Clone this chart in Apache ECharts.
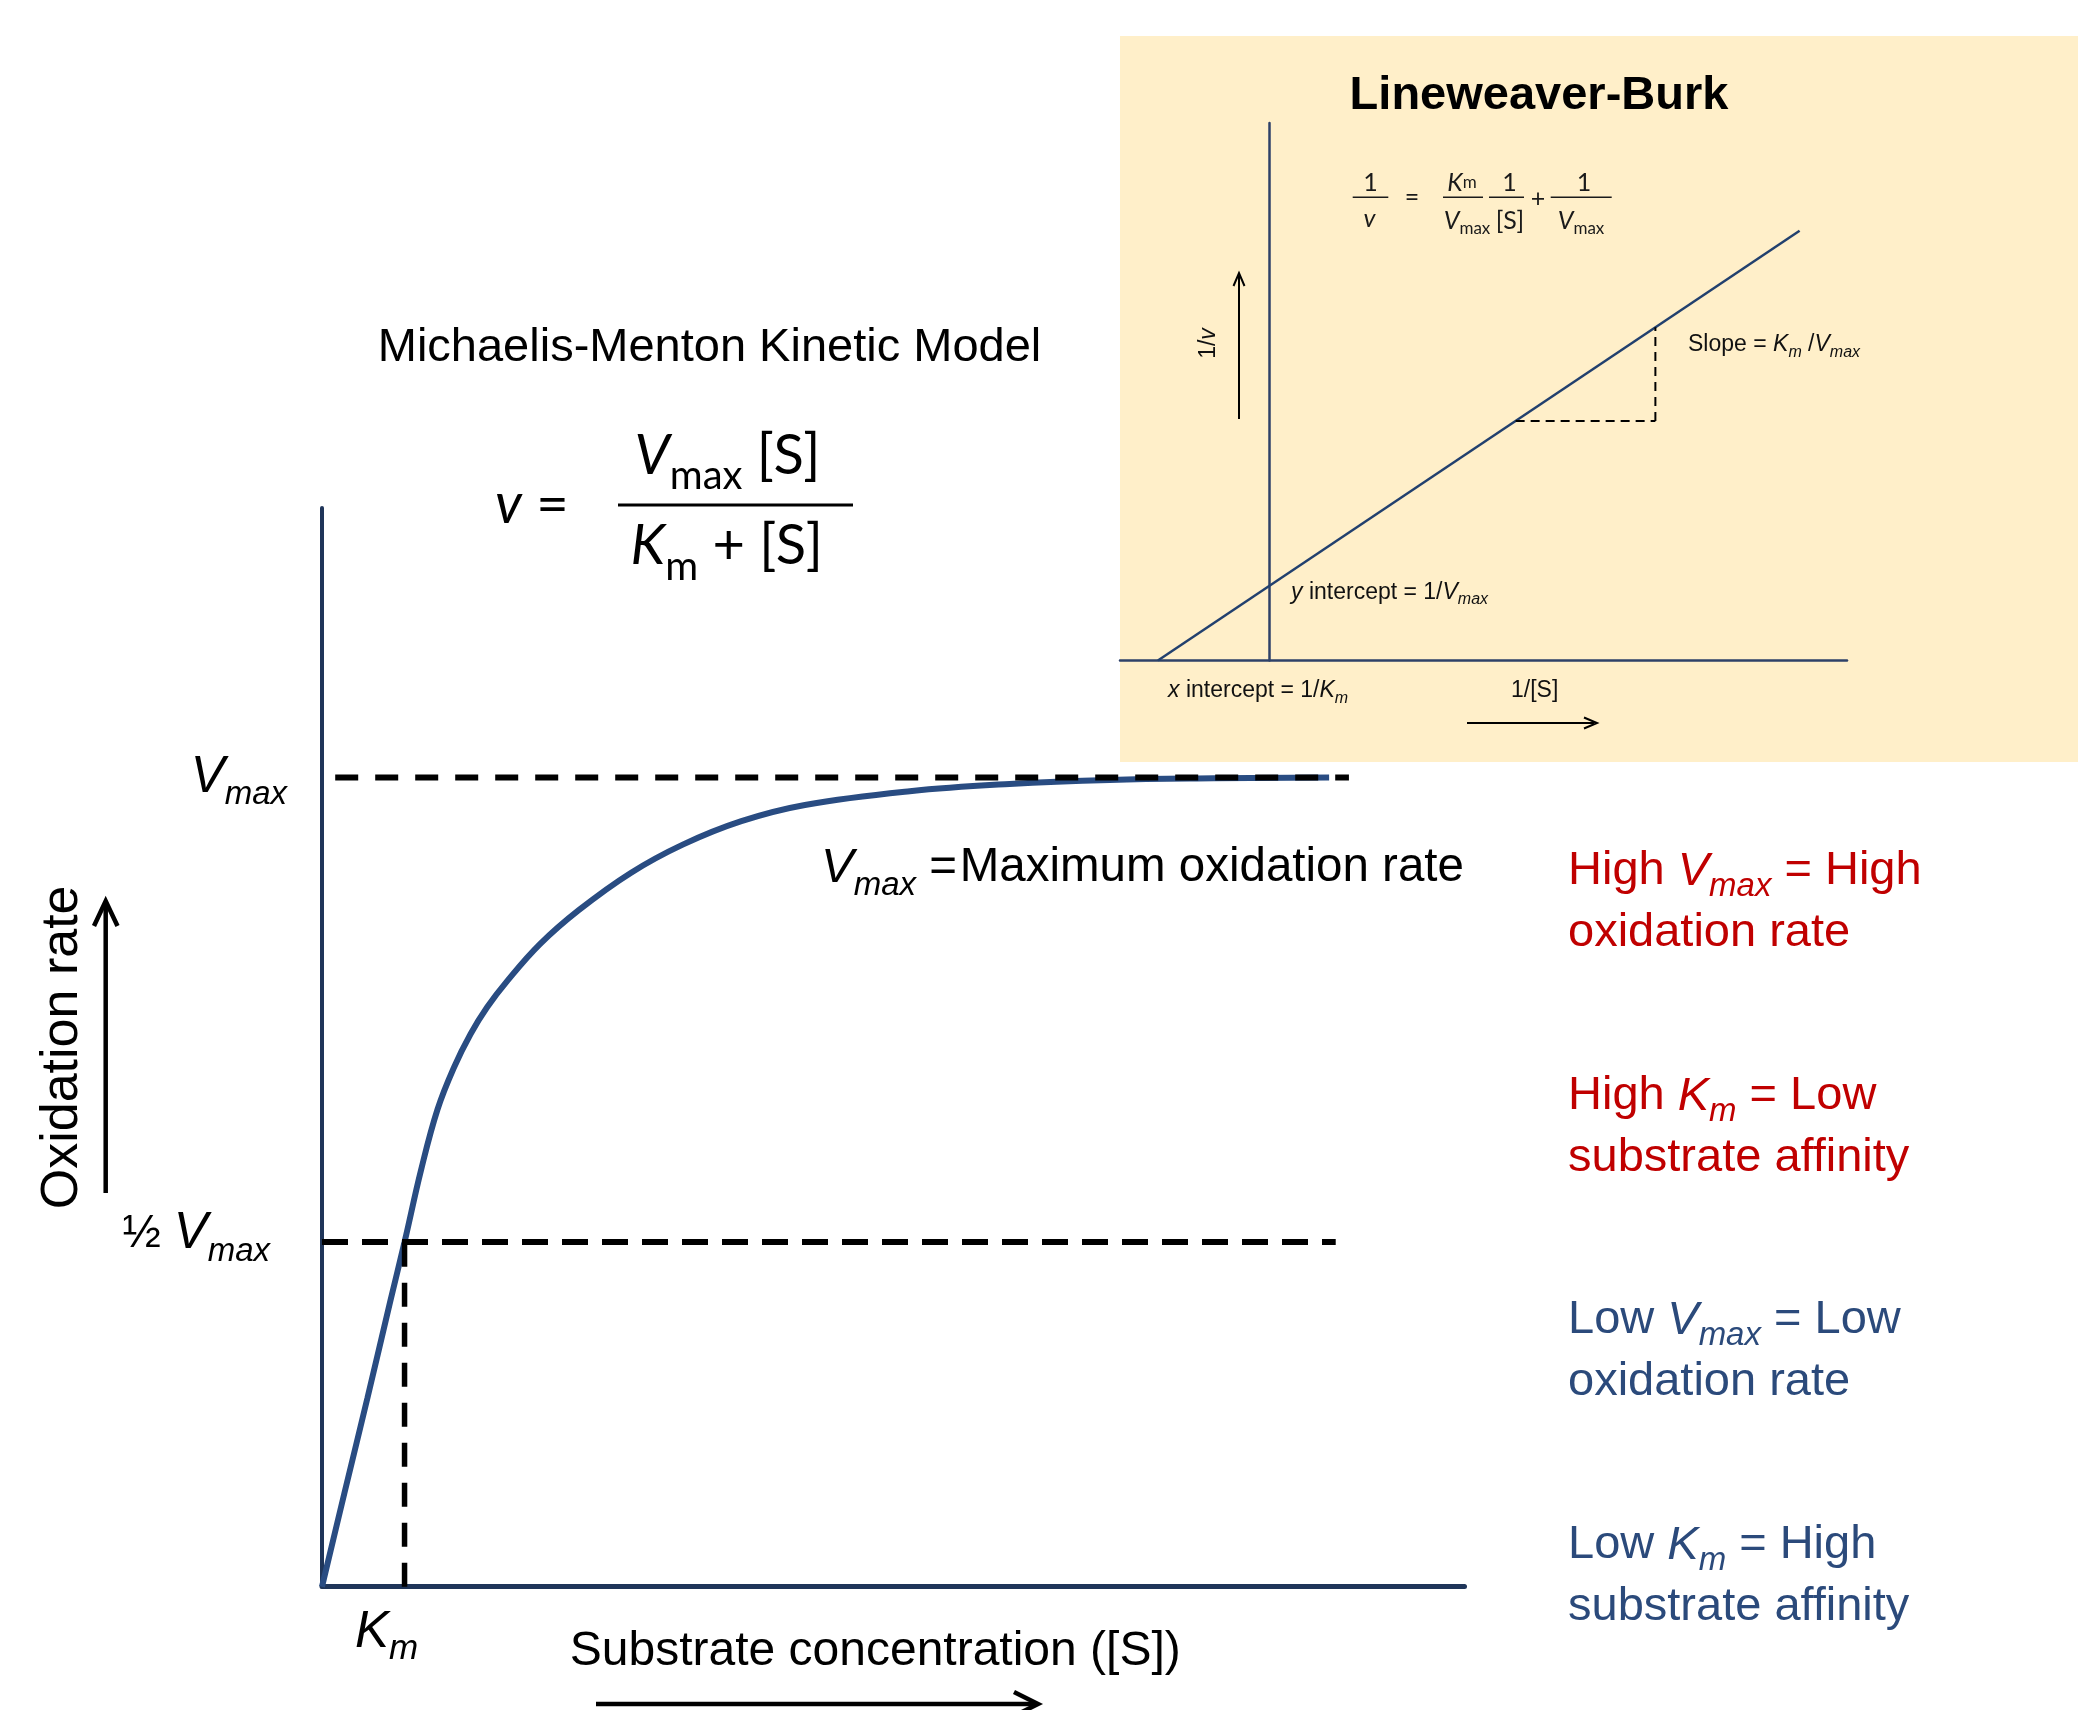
<!DOCTYPE html>
<html>
<head>
<meta charset="utf-8">
<script src="https://cdn.jsdelivr.net/npm/echarts@6/dist/echarts.min.js"></script>
<style>
html,body{margin:0;padding:0;background:#ffffff;}
#chart{width:2078px;height:1710px;}
</style>
</head>
<body>
<div id="chart"></div>
<script>
// ---------------- DATA ----------------
// Michaelis-Menten curve: [S] in units of Km, v in units of Vmax
const substrateConc = [0, 0.27, 0.55, 0.83, 1.0, 1.2, 1.4, 1.6, 1.8, 2.0, 2.24, 2.64, 3.11, 3.74, 4.37, 5.08, 5.85, 7.12, 8.33, 9.54, 10.8, 12.2];
const oxidationRate = [0, 0.115, 0.233, 0.354, 0.426, 0.515, 0.59, 0.642, 0.683, 0.716, 0.748, 0.794, 0.836, 0.882, 0.917, 0.946, 0.966, 0.983, 0.992, 0.997, 0.999, 1.0];
const vmaxLevel = 1;
const halfVmaxLevel = 0.426;
const kmValue = 1;
const vmaxLineX = [0.16, 12.44];
const halfLineX = [0, 12.28];
const yTickValues = [0.426, 1];
const yTickLabels = ['½ Vmax', 'Vmax'];
const xTickValues = [1];
const xTickLabels = ['Km'];
const xRange = [0, 13.84];
const yRange = [0, 1.333];
// Lineweaver-Burk inset: x = 1/[S] (units of 1/Km), y = 1/v (units of 1/Vmax)
const lbInvS = [-1, 4.74];
const lbInvV = [0, 5.74];
const slopeRunX = [2.2, 3.45];
const slopeRunY = [3.2, 3.2];
const slopeRiseX = [3.45, 3.45];
const slopeRiseY = [3.2, 4.45];
const lbXRange = [-1.339, 5.164];
const lbYRange = [0, 7.18];

// ---------------- STYLE ----------------
const AR = "'Liberation Sans', Arial, Helvetica, sans-serif";
const LT = "Lato, Carlito, Calibri, 'Open Sans', sans-serif";
const AXIS = '#1F3559';
const CURVE = '#294C82';
const RED = '#C00000';
const BLUE = '#2B4A7B';

function zip(a, b) { return a.map((v, i) => [v, b[i]]); }

function mathLabel(label, set) {
  const m = label.match(/^(.*?)([A-Z])([a-z]+)$/);
  if (!m) return label;
  const pre = m[1], base = m[2], sub = m[3];
  if (set === 'h') return (pre ? '{hp|' + pre + '}' : '') + '{hv|' + base + '}{hs|' + sub + '}';
  return (pre ? '{p|' + pre + '}' : '') + '{v|' + base + '}{s|' + sub + '}';
}

function tok(o) { return Object.assign({ verticalAlign: 'middle' }, o); }

const yTickRich = {
  p: tok({ fontFamily: AR, fontSize: 46, lineHeight: 56, color: '#000' }),
  v: tok({ fontFamily: AR, fontStyle: 'italic', fontSize: 51, lineHeight: 56, color: '#000' }),
  s: tok({ fontFamily: AR, fontStyle: 'italic', fontSize: 33, lineHeight: 56, color: '#000', padding: [35, 0, 0, 0] }),
  hp: tok({ fontFamily: AR, fontSize: 46, lineHeight: 56, color: '#000', padding: [0, 0, 16, 0] }),
  hv: tok({ fontFamily: AR, fontStyle: 'italic', fontSize: 51, lineHeight: 56, color: '#000', padding: [0, 0, 16, 0] }),
  hs: tok({ fontFamily: AR, fontStyle: 'italic', fontSize: 33, lineHeight: 56, color: '#000', padding: [35, 17, 16, 0] })
};
const xTickRich = {
  v: tok({ fontFamily: AR, fontStyle: 'italic', fontSize: 51, lineHeight: 52, color: '#000' }),
  s: tok({ fontFamily: AR, fontStyle: 'italic', fontSize: 35, lineHeight: 52, color: '#000', padding: [34, 36, 0, 0] })
};

// ---------------- GRAPHIC HELPERS (text + decorations) ----------------
function gText(x, y, text, st, rich, extra) {
  const style = Object.assign({
    text: text, fill: '#000', fontFamily: AR, fontSize: 48,
    align: 'left', textAlign: 'left', verticalAlign: 'middle', textVerticalAlign: 'middle'
  }, st || {});
  if (rich) style.rich = rich;
  return Object.assign({ type: 'text', x: x, y: y, z: 20, silent: true, style: style }, extra || {});
}
function gLine(x1, y1, x2, y2, w, color) {
  return { type: 'line', z: 20, silent: true, shape: { x1: x1, y1: y1, x2: x2, y2: y2 }, style: { stroke: color || '#000', lineWidth: w } };
}
function gPoly(points, w, color) {
  return { type: 'polyline', z: 20, silent: true, shape: { points: points }, style: { stroke: color || '#000', lineWidth: w, fill: null, lineJoin: 'miter' } };
}
function rt(font, size, opts) { return tok(Object.assign({ fontFamily: font, fontSize: size }, opts || {})); }

const graphics = [];
// yellow inset panel
graphics.push({ type: 'rect', z: -10, silent: true, shape: { x: 1120, y: 36, width: 958, height: 726 }, style: { fill: '#FFEFC9' } });

// Main title
graphics.push(gText(709.5, 348, 'Michaelis-Menton Kinetic Model', { fontSize: 47, align: 'center', textAlign: 'center' }));

// Michaelis-Menten equation
const fr = {
  vi: rt(LT, 56, { fontStyle: 'italic', lineHeight: 70 }),
  r: rt(LT, 56, { lineHeight: 70 }),
  V: rt(LT, 56, { fontStyle: 'italic', lineHeight: 70 }),
  sb: rt(LT, 40, { lineHeight: 70, padding: [40, 0, 0, 0] }),
  sb2: rt(LT, 40, { lineHeight: 70, padding: [42, 0, 0, 0] })
};
graphics.push(gText(495, 505, '{vi|v}{r| =}', { fontFamily: LT, fontSize: 56 }, fr));
graphics.push(gText(727.5, 456, '{V|V}{sb|max}{r| [S]}', { fontFamily: LT, fontSize: 56, align: 'center', textAlign: 'center' }, fr));
graphics.push(gLine(618, 505, 853, 505, 3));
graphics.push(gText(726.7, 546, '{V|K}{sb2|m}{r| + [S]}', { fontFamily: LT, fontSize: 56, align: 'center', textAlign: 'center' }, fr));

// Vmax = Maximum oxidation rate
graphics.push(gText(821, 868, '{v|V}{s|max}{r| =}{sp| }{r|Maximum oxidation rate}', { fontSize: 47.5 }, {
  v: rt(AR, 49, { fontStyle: 'italic', lineHeight: 60 }),
  s: rt(AR, 33, { fontStyle: 'italic', lineHeight: 60, padding: [35, 0, 0, 0] }),
  r: rt(AR, 47.5, { lineHeight: 60 }),
  sp: rt(AR, 10, { lineHeight: 60 })
}));

// Right-hand notes
function note(y, color, first, sym, sub, rest, second) {
  const rich = {
    r: rt(AR, 47, { lineHeight: 61.5, fill: color }),
    i: rt(AR, 47, { fontStyle: 'italic', lineHeight: 61.5, fill: color }),
    s: rt(AR, 33, { fontStyle: 'italic', lineHeight: 61.5, fill: color, padding: [30, 0, 0, 0] })
  };
  const txt = '{r|' + first + '}{i|' + sym + '}{s|' + sub + '}{r|' + rest + '}\n{r|' + second + '}';
  return gText(1568, y, txt, { fill: color, fontSize: 47, verticalAlign: 'top', textVerticalAlign: 'top' }, rich);
}
graphics.push(note(840.7, RED, 'High ', 'V', 'max', ' = High', 'oxidation rate'));
graphics.push(note(1065.7, RED, 'High ', 'K', 'm', ' = Low', 'substrate affinity'));
graphics.push(note(1289.7, BLUE, 'Low ', 'V', 'max', ' = Low', 'oxidation rate'));
graphics.push(note(1514.7, BLUE, 'Low ', 'K', 'm', ' = High', 'substrate affinity'));

// Axis arrows (main)
graphics.push(gLine(105.7, 1193, 105.7, 903, 4.5));
graphics.push(gPoly([[94, 926], [105.7, 901], [117.5, 926]], 4.5));
graphics.push(gLine(596, 1704, 1035, 1704, 4.5));
graphics.push(gPoly([[1014, 1692], [1038, 1704], [1014, 1716]], 4.5));

// Inset texts
graphics.push(gText(1539, 96, 'Lineweaver-Burk', { fontSize: 47, fontWeight: 'bold', align: 'center', textAlign: 'center' }));
const sr = {
  r: rt(AR, 23, { lineHeight: 30 }),
  i: rt(AR, 23, { fontStyle: 'italic', lineHeight: 30 }),
  s: rt(AR, 16, { fontStyle: 'italic', lineHeight: 30, padding: [15, 0, 0, 0] })
};
graphics.push(gText(1688, 345, '{r|Slope = }{i|K}{s|m}{r| /}{i|V}{s|max}', { fontSize: 23, fill: '#111' }, sr));
graphics.push(gText(1291, 592.5, '{i|y}{r| intercept = 1/}{i|V}{s|max}', { fontSize: 23, fill: '#111' }, sr));
graphics.push(gText(1168, 691, '{i|x}{r| intercept = 1/}{i|K}{s|m}', { fontSize: 23, fill: '#111' }, sr));
graphics.push(gText(1511, 691, '1/[S]', { fontSize: 23, fill: '#111' }));
graphics.push(gText(1208.5, 343.5, '{r|1/}{i|v}', { fontSize: 23, fill: '#111', align: 'center', textAlign: 'center' }, sr, { rotation: Math.PI / 2 }));
// inset arrows
graphics.push(gLine(1239, 419, 1239, 276, 2));
graphics.push(gPoly([[1233.5, 286], [1239, 273], [1244.5, 286]], 2));
graphics.push(gLine(1467, 723, 1594, 723, 2));
graphics.push(gPoly([[1584, 717.5], [1597, 723], [1584, 728.5]], 2));

// Inset equation: 1/v = Km/Vmax * 1/[S] + 1/Vmax
const lr = {
  r: rt(LT, 25, { lineHeight: 32 }),
  i: rt(LT, 25, { fontStyle: 'italic', lineHeight: 32 }),
  m: rt(LT, 17, { lineHeight: 32 }),
  s: rt(LT, 17, { lineHeight: 32, padding: [16, 0, 0, 0] })
};
const EQ = '#1a1a1a';
function ltx(x, y, t) { return gText(x, y, t, { fontFamily: LT, fontSize: 25, fill: EQ, align: 'center', textAlign: 'center' }, lr); }
graphics.push(ltx(1370.5, 183, '{r|1}'));
graphics.push(gLine(1352.7, 197.3, 1388.3, 197.3, 1.5, EQ));
graphics.push(ltx(1369.5, 219, '{i|v}'));
graphics.push(ltx(1412, 198, '{r|=}'));
graphics.push(ltx(1462, 183, '{i|K}{m|m}'));
graphics.push(gLine(1443, 197.3, 1483, 197.3, 1.5, EQ));
graphics.push(ltx(1467, 220.5, '{i|V}{s|max}'));
graphics.push(ltx(1509.5, 183, '{r|1}'));
graphics.push(gLine(1489, 197.3, 1524, 197.3, 1.5, EQ));
graphics.push(ltx(1510, 220.5, '{r|[S]}'));
graphics.push(ltx(1538, 199, '{r|+}'));
graphics.push(ltx(1584, 183, '{r|1}'));
graphics.push(gLine(1550.7, 197.3, 1611.7, 197.3, 1.5, EQ));
graphics.push(ltx(1581, 220.5, '{i|V}{s|max}'));

// ---------------- CHART ----------------
const chart = echarts.init(document.getElementById('chart'), null, { renderer: 'canvas', width: 2078, height: 1710 });

function tickIndex(arr, val) {
  let best = 0;
  for (let i = 0; i < arr.length; i++) if (Math.abs(arr[i] - val) < Math.abs(arr[best] - val)) best = i;
  return best;
}

const dashed = (w, pattern) => ({ color: '#000', width: w, type: pattern });

const option = {
  animation: false,
  backgroundColor: '#ffffff',
  textStyle: { fontFamily: AR },
  grid: [
    { left: 322, top: 508, width: 1142.5, height: 1078.7, outerBoundsMode: 'none', containLabel: false },
    { left: 1120, top: 123, width: 727, height: 537.5, outerBoundsMode: 'none', containLabel: false }
  ],
  xAxis: [
    {
      type: 'value', gridIndex: 0, min: xRange[0], max: xRange[1],
      name: 'Substrate concentration ([S])', nameLocation: 'middle', nameGap: 41, nameMoveOverlap: false,
      nameTextStyle: { fontFamily: AR, fontSize: 48, color: '#000', lineHeight: 48, padding: [0, 36, 0, 0] },
      axisLine: { show: true, onZero: false, lineStyle: { color: AXIS, width: 5 } },
      axisTick: { show: false }, splitLine: { show: false },
      axisLabel: {
        show: true, customValues: xTickValues, margin: 20,
        formatter: (val) => mathLabel(xTickLabels[tickIndex(xTickValues, val)], 'n'),
        rich: xTickRich
      }
    },
    {
      type: 'value', gridIndex: 1, min: lbXRange[0], max: lbXRange[1],
      axisLine: { show: true, onZero: true, lineStyle: { color: '#2E4168', width: 2.5 } },
      axisTick: { show: false }, splitLine: { show: false }, axisLabel: { show: false }
    }
  ],
  yAxis: [
    {
      type: 'value', gridIndex: 0, min: yRange[0], max: yRange[1],
      name: 'Oxidation rate', nameLocation: 'middle', nameGap: 233, nameRotate: 90, nameMoveOverlap: false,
      nameTextStyle: { fontFamily: AR, fontSize: 52, color: '#000', lineHeight: 52 },
      axisLine: { show: true, onZero: false, lineStyle: { color: AXIS, width: 4 } },
      axisTick: { show: false }, splitLine: { show: false },
      axisLabel: {
        show: true, customValues: yTickValues, margin: 35,
        formatter: (val) => {
          const lab = yTickLabels[tickIndex(yTickValues, val)];
          return mathLabel(lab, lab.indexOf('½') === 0 ? 'h' : 'n');
        },
        rich: yTickRich
      }
    },
    {
      type: 'value', gridIndex: 1, min: lbYRange[0], max: lbYRange[1],
      axisLine: { show: true, onZero: true, lineStyle: { color: '#2E4168', width: 2.5 } },
      axisTick: { show: false }, splitLine: { show: false }, axisLabel: { show: false }
    }
  ],
  series: [
    {
      name: 'Michaelis-Menten', type: 'line', xAxisIndex: 0, yAxisIndex: 0, z: 3,
      data: zip(substrateConc, oxidationRate), smooth: 0.4, showSymbol: false, symbol: 'none',
      lineStyle: { color: CURVE, width: 6 }, silent: true
    },
    {
      name: 'Vmax', type: 'line', xAxisIndex: 0, yAxisIndex: 0, z: 4, showSymbol: false, symbol: 'none',
      data: zip(vmaxLineX, [vmaxLevel, vmaxLevel]), lineStyle: dashed(6, [23, 17]), silent: true
    },
    {
      name: '½ Vmax', type: 'line', xAxisIndex: 0, yAxisIndex: 0, z: 4, showSymbol: false, symbol: 'none',
      data: zip(halfLineX, [halfVmaxLevel, halfVmaxLevel]), lineStyle: dashed(6, [26, 14]), silent: true
    },
    {
      name: 'Km', type: 'line', xAxisIndex: 0, yAxisIndex: 0, z: 4, showSymbol: false, symbol: 'none',
      data: zip([kmValue, kmValue], [0, halfVmaxLevel]), lineStyle: dashed(5.5, [24, 16]), silent: true
    },
    {
      name: 'Lineweaver-Burk', type: 'line', xAxisIndex: 1, yAxisIndex: 1, z: 3, showSymbol: false, symbol: 'none',
      data: zip(lbInvS, lbInvV), lineStyle: { color: '#22406E', width: 2.5 }, silent: true
    },
    {
      name: 'run', type: 'line', xAxisIndex: 1, yAxisIndex: 1, z: 3, showSymbol: false, symbol: 'none',
      data: zip(slopeRunX, slopeRunY), lineStyle: dashed(2, [9, 6]), silent: true
    },
    {
      name: 'rise', type: 'line', xAxisIndex: 1, yAxisIndex: 1, z: 3, showSymbol: false, symbol: 'none',
      data: zip(slopeRiseX, slopeRiseY), lineStyle: dashed(2, [9, 6]), silent: true
    }
  ],
  graphic: { elements: graphics }
};
chart.setOption(option);
</script>
</body>
</html>
